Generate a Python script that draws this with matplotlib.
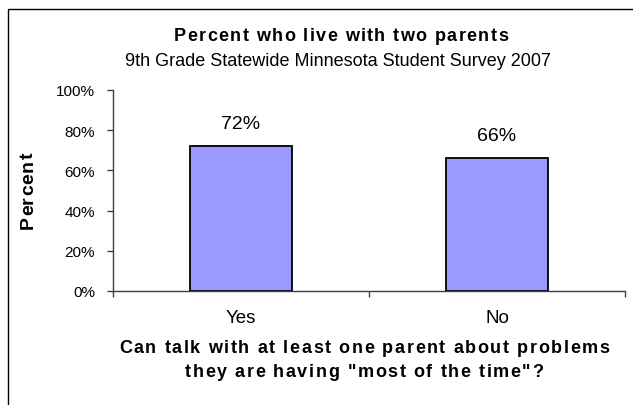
import matplotlib.pyplot as plt
from matplotlib.lines import Line2D
from matplotlib.ticker import PercentFormatter
from matplotlib.font_manager import FontProperties, findfont, get_font

plt.rcParams['font.family'] = ['Liberation Sans', 'DejaVu Sans']

# data
categories = ['Yes', 'No']
percents = [72, 66]
yticks = [0, 20, 40, 60, 80, 100]

W, H = 633, 406
fig = plt.figure(figsize=(W / 100, H / 100), dpi=100)


def spaced_text(xc, yc, s, size, track, rotation=0):
    # bold text with extra letter spacing, centred on xc (baseline at yc), pixels from top-left
    prop = FontProperties(family='Liberation Sans', size=size, weight='bold')
    font = get_font(findfont(prop))
    font.set_size(size, 100)
    adv = [font.load_char(ord(c)).linearHoriAdvance / 65536 + track for c in s]
    pos = -(sum(adv) - track) / 2
    for c, a in zip(s, adv):
        if rotation:
            x, y = xc, yc - pos
        else:
            x, y = xc + pos, yc
        fig.text(x / W, 1 - y / H, c, fontproperties=prop, rotation=rotation,
                 rotation_mode='anchor', ha='left', va='baseline')
        pos += a


ax = fig.add_axes([113 / W, 1 - 292 / H, 512 / W, 201 / H])

x = range(len(categories))
ax.bar(x, percents, width=0.4, color='#9999FF', edgecolor='black', linewidth=1.3)

for i, v in zip(x, percents):
    ax.annotate('%d%%' % v, (i, v), xytext=(0, 16.5), textcoords='offset points',
                ha='center', va='center', fontsize=14)

ax.set_xlim(-0.5, len(categories) - 0.5)
ax.set_ylim(0, 100)
ax.set_yticks(yticks)
ax.yaxis.set_major_formatter(PercentFormatter(decimals=0))
ax.set_xticks(list(x))
ax.set_xticklabels(categories)
ax.set_xticks([-0.5, 0.5, 1.5], minor=True)
ax.tick_params(axis='x', which='major', length=0, pad=13, labelsize=13.5)
ax.tick_params(axis='x', which='minor', length=4, width=1, color='#404040', direction='out')
ax.tick_params(axis='y', length=4, width=1, color='#404040', pad=9, labelsize=11)

for s in ['top', 'right']:
    ax.spines[s].set_visible(False)
for s in ['left', 'bottom']:
    ax.spines[s].set_color('#404040')
    ax.spines[s].set_linewidth(1)

# titles
spaced_text(341, 41, 'Percent who live with two parents', 13, 1.4)
fig.text(338 / W, 1 - 61 / H, '9th Grade Statewide Minnesota Student Survey 2007',
         ha='center', va='center', fontsize=13)
spaced_text(33, 191, 'Percent', 14, 0.8, rotation=90)
spaced_text(364, 353, 'Can talk with at least one parent about problems', 13, 1.6)
spaced_text(364, 377, 'they are having "most of the time"?', 13, 1.6)

# chart area border (only top/left visible)
fig.add_artist(Line2D([8 / W, 8 / W, 1], [0, 1 - 10 / H, 1 - 10 / H],
                      transform=fig.transFigure, color='black', linewidth=1))

plt.savefig('out.png', dpi=100)
